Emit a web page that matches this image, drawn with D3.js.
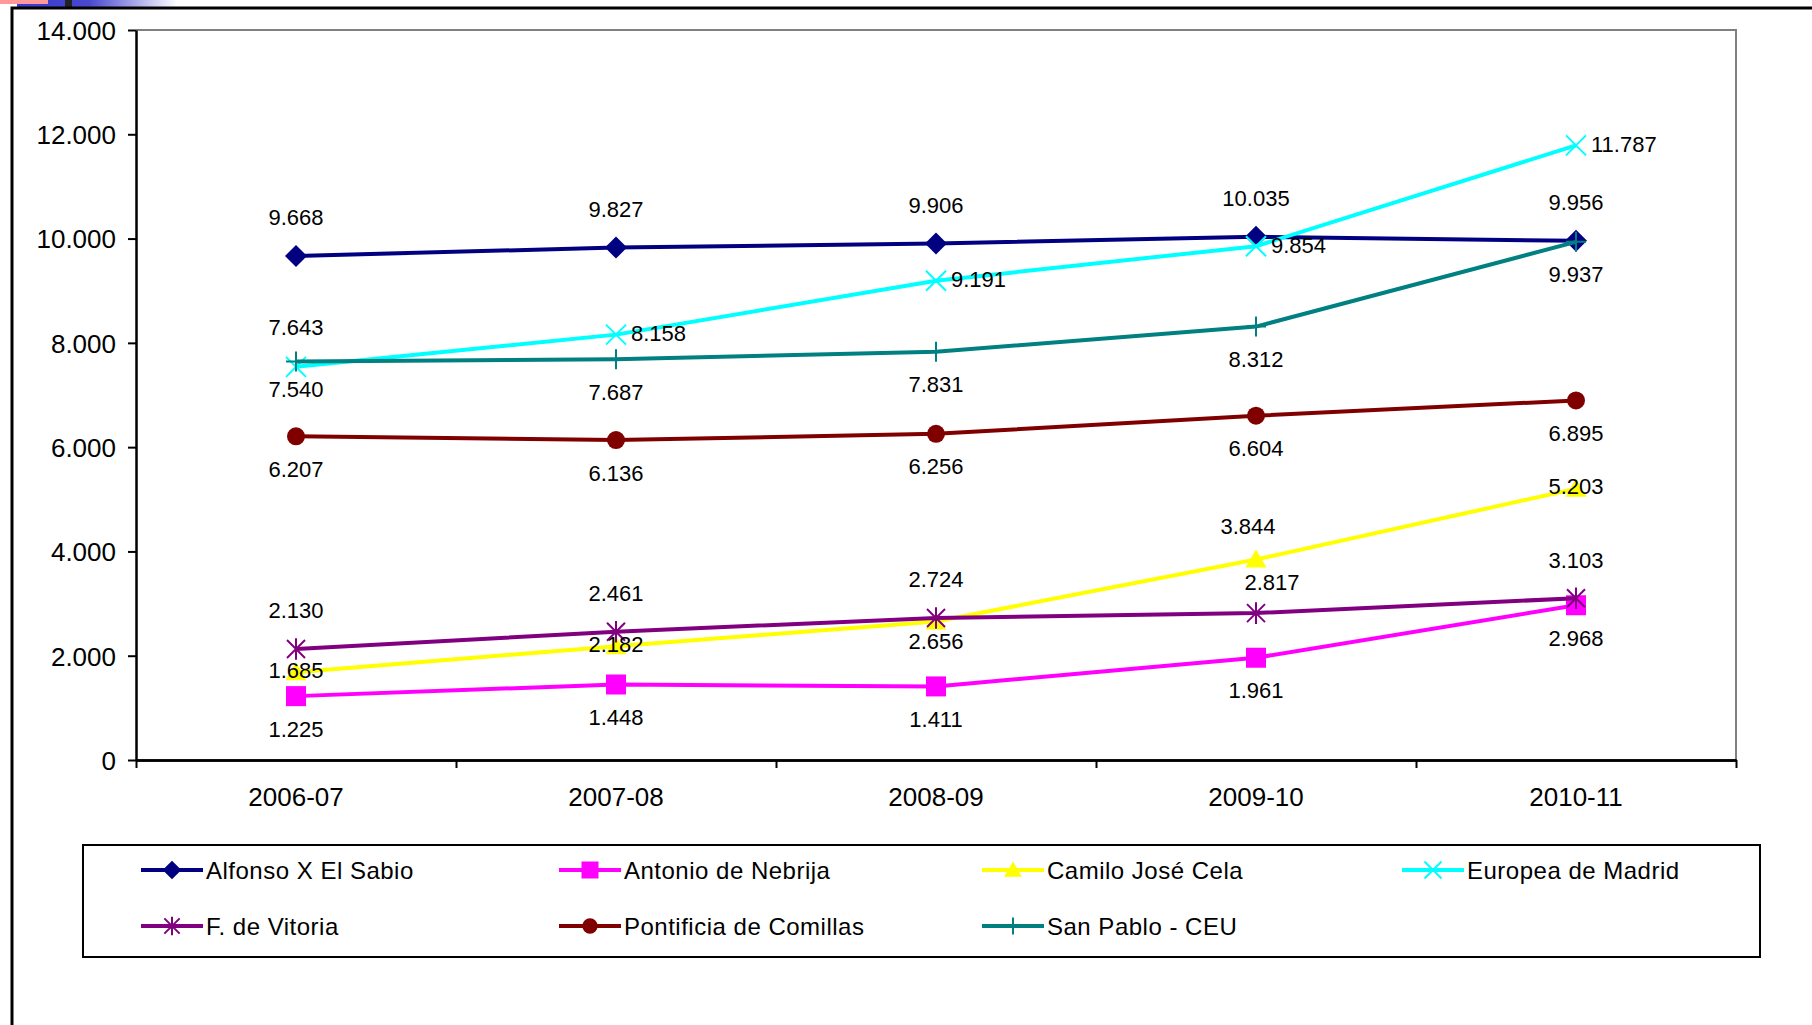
<!DOCTYPE html>
<html>
<head>
<meta charset="utf-8">
<script src="https://cdn.jsdelivr.net/npm/d3@7"></script>
<style>
body { margin: 0; background: #fff; }
svg { display: block; }
text { font-family: Arial, "Liberation Sans", sans-serif; fill: #000; }
</style>
</head>
<body>
<svg id="vis"></svg>
<script>
const width = 1812;
const height = 1025;

// data
const categories = ['2006-07', '2007-08', '2008-09', '2009-10', '2010-11'];
const seriesNames = ['Alfonso X El Sabio', 'Antonio de Nebrija', 'Camilo José Cela', 'Europea de Madrid',
                     'F. de Vitoria', 'Pontificia de Comillas', 'San Pablo - CEU'];
const alfonso = [9668, 9827, 9906, 10035, 9956];
const nebrija = [1225, 1448, 1411, 1961, 2968];
const cela = [1685, 2182, 2656, 3844, 5203];
const europea = [7540, 8158, 9191, 9854, 11787];
const vitoria = [2130, 2461, 2724, 2817, 3103];
const comillas = [6207, 6136, 6256, 6604, 6895];
const ceu = [7643, 7687, 7831, 8312, 9937];
const yTicks = [0, 2000, 4000, 6000, 8000, 10000, 12000, 14000];

// label placements [dx, dy, anchor]
const A = [0, -38, 'middle'], B = [0, 33, 'middle'], R = [15, -1, 'start'], C = [0, -2, 'middle'];
const series = [
    {values: alfonso, color: '#000080', marker: 'diamond', labels: [A, A, A, A, A]},
    {values: nebrija, color: '#ff00ff', marker: 'square', labels: [B, B, B, B, B]},
    {values: cela, color: '#ffff00', marker: 'triangle', labels: [C, C, [0, 20, 'middle'], [-8, -33, 'middle'], C]},
    {values: europea, color: '#00ffff', marker: 'x', labels: [[0, 23, 'middle'], R, R, R, R]},
    {values: vitoria, color: '#800080', marker: 'asterisk', labels: [A, A, A, [16, -31, 'middle'], A]},
    {values: comillas, color: '#800000', marker: 'circle', labels: [B, B, B, B, B]},
    {values: ceu, color: '#008080', marker: 'plus', labels: [[0, -34, 'middle'], B, B, B, B]},
];
series.forEach((s, i) => s.name = seriesNames[i]);

const locale = d3.formatLocale({decimal: ',', thousands: '.', grouping: [3], currency: ['', '']});
const fmt = locale.format(',d');

const svg = d3.select('#vis').attr('width', width).attr('height', height);

// slide decoration in the top-left corner
const grad = svg.append('defs').append('linearGradient').attr('id', 'band');
grad.append('stop').attr('offset', '0%').attr('stop-color', '#3a3ad0');
grad.append('stop').attr('offset', '45%').attr('stop-color', '#4848d0');
grad.append('stop').attr('offset', '100%').attr('stop-color', '#ffffff');
svg.append('rect').attr('x', 17).attr('y', 0).attr('width', 160).attr('height', 7).attr('fill', 'url(#band)');
svg.append('rect').attr('x', 0).attr('y', 0).attr('width', 48).attr('height', 4).attr('fill', '#ff9999');
svg.append('rect').attr('x', 65).attr('y', 0).attr('width', 7).attr('height', 7).attr('fill', '#222');

// outer frame
svg.append('path').attr('d', `M12,${height} V8 H${width}`).attr('fill', 'none')
    .attr('stroke', '#000').attr('stroke-width', 3);

const plot = {left: 136, right: 1736, top: 30, bottom: 760};

const x = d3.scaleBand().domain(categories).range([plot.left, plot.right]);
const xEdges = d3.scaleLinear().domain([0, categories.length]).range([plot.left, plot.right]);
const y = d3.scaleLinear().domain([0, 14000]).range([plot.bottom, plot.top]);
const cx = d => x(d) + x.bandwidth() / 2;

// plot area border (grey top and right)
svg.append('path')
    .attr('d', `M${plot.left},${plot.top} H${plot.right} V${plot.bottom}`)
    .attr('fill', 'none').attr('stroke', '#808080').attr('stroke-width', 2);

// y axis
const yAxis = svg.append('g').attr('transform', `translate(${plot.left},0)`)
    .call(d3.axisLeft(y).tickValues(yTicks).tickFormat(fmt).tickSize(8).tickSizeOuter(0).tickPadding(12));
yAxis.selectAll('text').style('font-size', '26px').attr('dy', '0.36em');

// x axis: labels centered, ticks at the boundaries
const xAxis = svg.append('g').attr('transform', `translate(0,${plot.bottom})`)
    .call(d3.axisBottom(x).tickSize(0).tickPadding(28));
xAxis.selectAll('text').style('font-size', '26px');
svg.append('g').attr('transform', `translate(0,${plot.bottom})`)
    .call(d3.axisBottom(xEdges).ticks(categories.length).tickSize(8).tickSizeOuter(0).tickFormat(''));

svg.selectAll('.domain').attr('stroke', '#000').attr('stroke-width', 2.5);
svg.selectAll('.tick line').attr('stroke', '#000').attr('stroke-width', 2);

function markerPath(type, r) {
    switch (type) {
        case 'diamond': return `M0,${-r}L${r},0L0,${r}L${-r},0Z`;
        case 'square': return `M${-r},${-r}H${r}V${r}H${-r}Z`;
        case 'triangle': return `M0,${-r}L${r * 1.05},${r * 0.8}H${-r * 1.05}Z`;
        case 'circle': return d3.arc()({innerRadius: 0, outerRadius: r, startAngle: 0, endAngle: 2 * Math.PI});
        case 'x': return `M${-r},${-r}L${r},${r}M${r},${-r}L${-r},${r}`;
        case 'plus': return `M${-r},0H${r}M0,${-r}V${r}`;
        case 'asterisk': return `M${-r},${-r}L${r},${r}M${r},${-r}L${-r},${r}M0,${-r * 1.2}V${r * 1.2}`;
    }
}
const filled = t => ['diamond', 'square', 'triangle', 'circle'].includes(t);
const markerSize = {diamond: 11, square: 10, triangle: 10, circle: 9, x: 10, plus: 10, asterisk: 9};

function drawMarker(g, type, color, scale) {
    const r = markerSize[type] * scale;
    g.append('path').attr('d', markerPath(type, r))
        .attr('fill', filled(type) ? color : 'none')
        .attr('stroke', color)
        .attr('stroke-width', filled(type) ? 0 : 2);
}

const line = d3.line().x((d, i) => cx(categories[i])).y(d => y(d));

series.forEach(s => {
    svg.append('path').datum(s.values)
        .attr('d', line)
        .attr('fill', 'none')
        .attr('stroke', s.color)
        .attr('stroke-width', 4);
    s.values.forEach((v, i) => {
        const g = svg.append('g').attr('transform', `translate(${cx(categories[i])},${y(v)})`);
        drawMarker(g, s.marker, s.color, 1);
    });
});

// data labels
series.forEach(s => {
    svg.append('g').selectAll('text').data(s.values).enter().append('text')
        .attr('x', (d, i) => cx(categories[i]) + s.labels[i][0])
        .attr('y', (d, i) => y(d) + s.labels[i][1])
        .attr('text-anchor', (d, i) => s.labels[i][2])
        .attr('dominant-baseline', 'central')
        .style('font-size', '22px')
        .text(d => fmt(d));
});

// legend
const legend = {left: 83, top: 845, right: 1760, bottom: 957};
svg.append('rect')
    .attr('x', legend.left).attr('y', legend.top)
    .attr('width', legend.right - legend.left).attr('height', legend.bottom - legend.top)
    .attr('fill', '#fff').attr('stroke', '#000').attr('stroke-width', 2);

const colX = [141, 559, 982, 1402];
const rowY = [870, 926];
series.forEach((s, i) => {
    const g = svg.append('g')
        .attr('transform', `translate(${colX[i % 4]},${rowY[Math.floor(i / 4)]})`);
    g.append('line').attr('x1', 0).attr('x2', 62)
        .attr('stroke', s.color).attr('stroke-width', 4);
    drawMarker(g.append('g').attr('transform', 'translate(31,0)'), s.marker, s.color, 0.85);
    g.append('text').attr('x', 65).attr('dominant-baseline', 'central')
        .style('font-size', '24px').style('letter-spacing', '0.5px')
        .text(s.name);
});
</script>
</body>
</html>
